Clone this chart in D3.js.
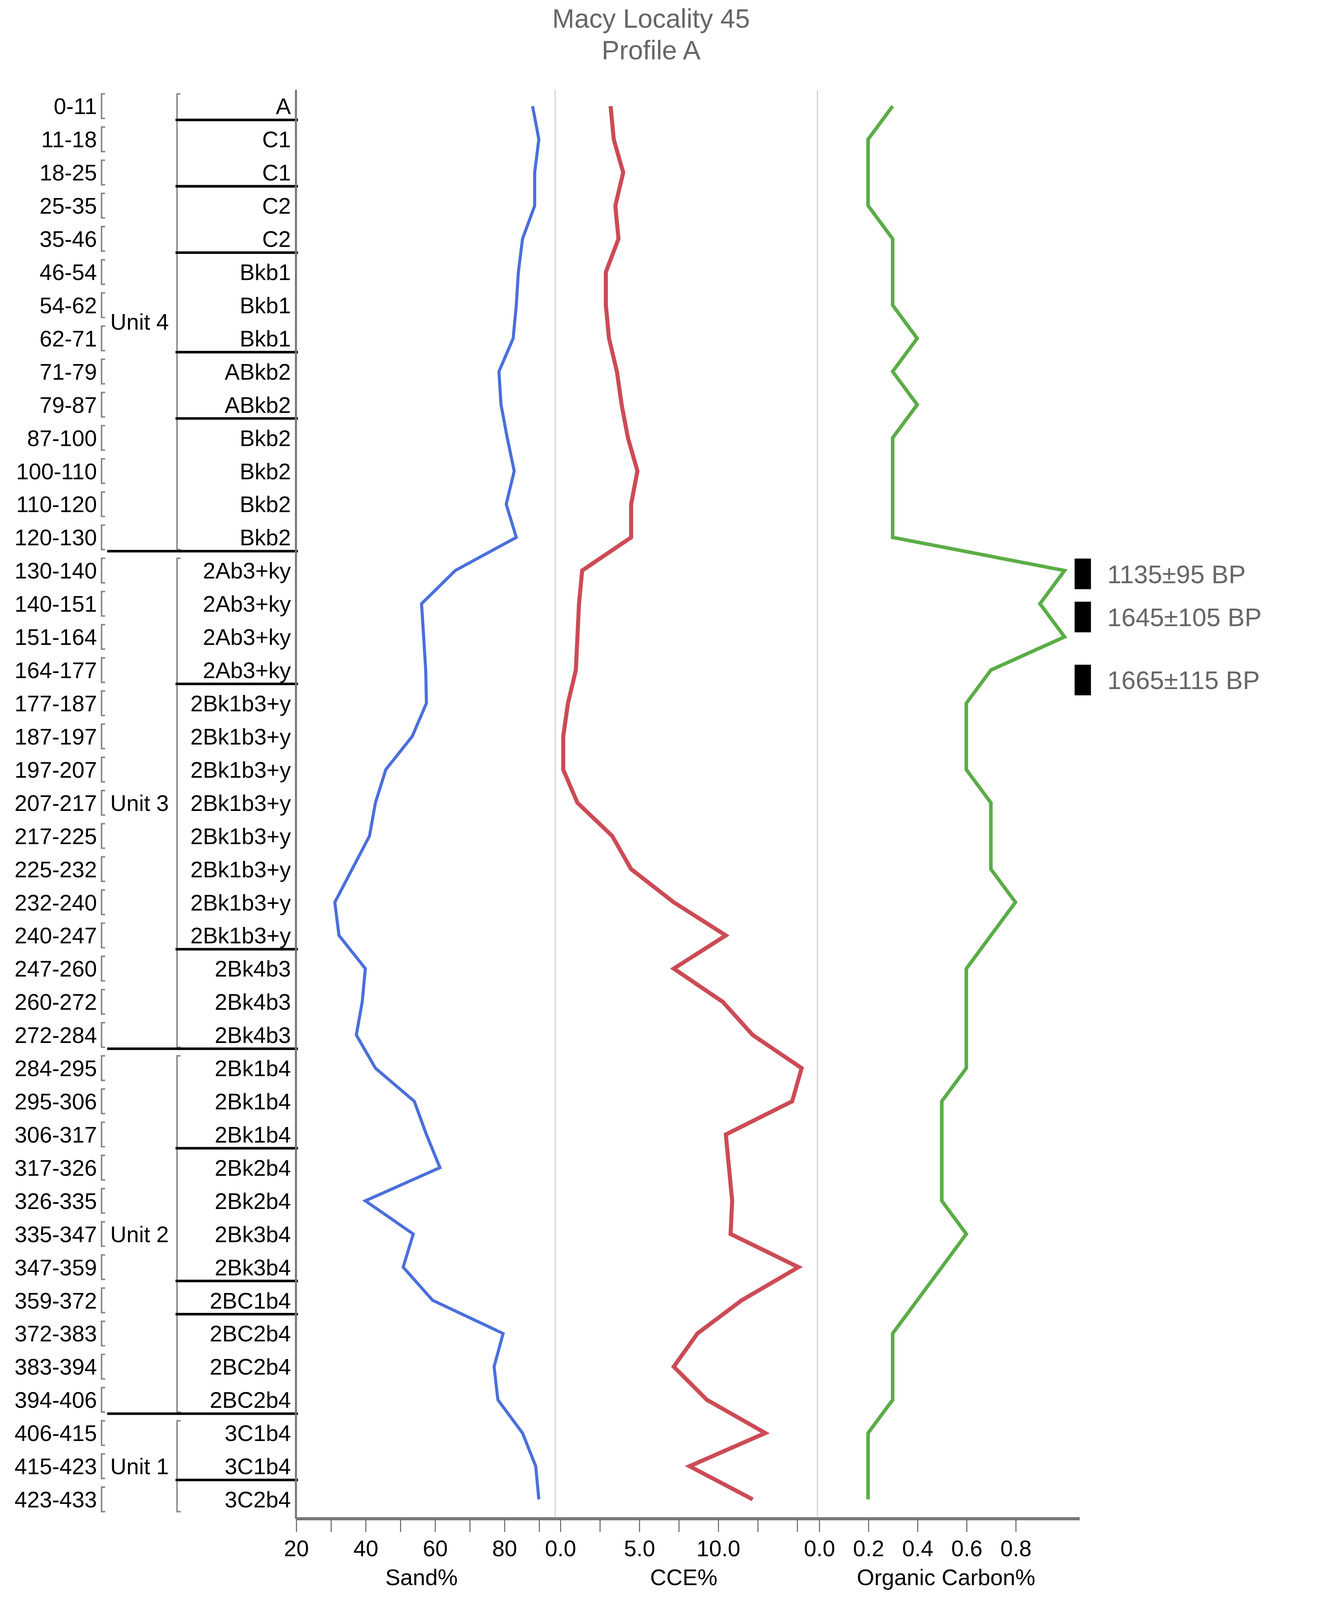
<!DOCTYPE html>
<html><head><meta charset="utf-8">
<script src="https://cdn.jsdelivr.net/npm/d3@7"></script>
<style>body{margin:0;background:#fff}text{font-family:"Liberation Sans",Arial,sans-serif}</style>
</head><body><svg id="c" width="3436" height="4297"></svg>
<script>
const depths=["0-11","11-18","18-25","25-35","35-46","46-54","54-62","62-71","71-79","79-87","87-100","100-110","110-120","120-130","130-140","140-151","151-164","164-177","177-187","187-197","197-207","207-217","217-225","225-232","232-240","240-247","247-260","260-272","272-284","284-295","295-306","306-317","317-326","326-335","335-347","347-359","359-372","372-383","383-394","394-406","406-415","415-423","423-433"];
const horizons=["A","C1","C1","C2","C2","Bkb1","Bkb1","Bkb1","ABkb2","ABkb2","Bkb2","Bkb2","Bkb2","Bkb2","2Ab3+ky","2Ab3+ky","2Ab3+ky","2Ab3+ky","2Bk1b3+y","2Bk1b3+y","2Bk1b3+y","2Bk1b3+y","2Bk1b3+y","2Bk1b3+y","2Bk1b3+y","2Bk1b3+y","2Bk4b3","2Bk4b3","2Bk4b3","2Bk1b4","2Bk1b4","2Bk1b4","2Bk2b4","2Bk2b4","2Bk3b4","2Bk3b4","2BC1b4","2BC2b4","2BC2b4","2BC2b4","3C1b4","3C1b4","3C2b4"];
const horizonBreaks=[0,2,4,7,9,17,25,31,35,36,41];
const units=[{name:"Unit 4",first:0,last:13},{name:"Unit 3",first:14,last:28},{name:"Unit 2",first:29,last:39},{name:"Unit 1",first:40,last:42}];
const sand=[88.2,90,88.8,88.8,85.3,84.1,83.5,82.6,78.5,79.1,80.9,82.9,80.6,83.5,65.9,56.2,56.8,57.4,57.6,53.5,45.9,42.9,41.2,36.2,31.2,32.4,40,39.1,37.4,42.9,54.1,57.6,61.5,40,53.8,50.9,59.4,79.7,77.1,78.2,85.3,89.1,90];
const cce=[3.2,3.4,4.0,3.5,3.7,2.9,2.9,3.1,3.6,3.9,4.3,4.9,4.5,4.5,1.4,1.2,1.1,1.0,0.5,0.2,0.2,1.1,3.3,4.5,7.2,10.5,7.2,10.3,12.2,15.3,14.7,10.5,10.7,10.9,10.8,15.1,11.5,8.7,7.2,9.3,13.0,8.2,12.2];
const oc=[0.3,0.2,0.2,0.2,0.3,0.3,0.3,0.4,0.3,0.4,0.3,0.3,0.3,0.3,1.0,0.9,1.0,0.7,0.6,0.6,0.6,0.7,0.7,0.7,0.8,0.7,0.6,0.6,0.6,0.6,0.5,0.5,0.5,0.5,0.6,0.5,0.4,0.3,0.3,0.3,0.2,0.2,0.2];
const dates=[{label:"1135±95 BP",row:14.1},{label:"1645±105 BP",row:15.4},{label:"1665±115 BP",row:17.3}];
const sandTicks=[20,30,40,50,60,70,80,90],sandLabels=[20,40,60,80];
const cceTicks=[0,2.5,5,7.5,10,12.5,15],cceLabels=[0,5,10];
const ocTicks=[0,0.2,0.4,0.6,0.8],ocLabels=[0,0.2,0.4,0.6,0.8];

const K=3436/1315;
const svg=d3.select("#c");
const g=svg.append("g").attr("transform",`scale(${K})`);
const y=d3.scaleLinear().domain([0,42]).range([104,1469]);
const FS=22;
const xs=d3.scaleLinear().domain([20,90]).range([290,528]);
const xc=d3.scaleLinear().domain([0,10]).range([548.8,703.5]);
const xo=d3.scaleLinear().domain([0,0.8]).range([802.5,995]);
const axisY=1488;

g.append("text").attr("x",638).attr("y",27).attr("text-anchor","middle").attr("font-size",26).attr("fill","#666").text("Macy Locality 45");
g.append("text").attr("x",638).attr("y",58).attr("text-anchor","middle").attr("font-size",26).attr("fill","#666").text("Profile A");

[544,801].forEach(x=>g.append("line").attr("x1",x).attr("x2",x).attr("y1",88).attr("y2",axisY).attr("stroke","#d4d4d4").attr("stroke-width",1.2));

depths.forEach((d,i)=>{
  g.append("text").attr("x",95).attr("y",y(i)).attr("dy","0.36em").attr("text-anchor","end").attr("font-size",FS).text(d);
  g.append("path").attr("d",`M103,${y(i)-12}H99.5V${y(i)+12}H103`).attr("fill","none").attr("stroke","#888").attr("stroke-width",1.5);
  g.append("text").attr("x",285).attr("y",y(i)).attr("dy","0.36em").attr("text-anchor","end").attr("font-size",FS).text(horizons[i]);
});
units.forEach(u=>{
  const y0=y(u.first)-12,y1=y(u.last)+12;
  g.append("path").attr("d",`M177,${y0}H173.5V${y1}H177`).attr("fill","none").attr("stroke","#888").attr("stroke-width",1.5);
  g.append("text").attr("x",108).attr("y",(y(u.first)+y(u.last))/2).attr("dy","0.36em").attr("font-size",FS).text(u.name);
});
horizonBreaks.forEach(i=>g.append("line").attr("x1",172).attr("x2",292).attr("y1",y(i)+13.5).attr("y2",y(i)+13.5).attr("stroke","#000").attr("stroke-width",2.5));
units.slice(0,3).forEach(u=>g.append("line").attr("x1",105).attr("x2",292).attr("y1",y(u.last)+13.5).attr("y2",y(u.last)+13.5).attr("stroke","#000").attr("stroke-width",2.5));

g.append("line").attr("x1",290).attr("x2",290).attr("y1",88).attr("y2",axisY).attr("stroke","#777").attr("stroke-width",2);

const mk=(arr,x,col,w)=>g.append("path").datum(arr).attr("fill","none").attr("stroke",col).attr("stroke-width",w).attr("stroke-linejoin","miter")
  .attr("d",d3.line().x(v=>x(v)).y((v,i)=>y(i)));
mk(sand,xs,"#4a6fdc",3);
mk(cce,xc,"#cc4b55",4);
mk(oc,xo,"#5aad46",3.5);

dates.forEach(d=>{
  g.append("rect").attr("x",1053).attr("y",y(d.row)-15).attr("width",16).attr("height",30).attr("fill","#000");
  g.append("text").attr("x",1085).attr("y",y(d.row)).attr("dy","0.36em").attr("font-size",25).attr("fill","#666").text(d.label);
});

function ax(x,ticks,labels,fmt){
  const a=d3.axisBottom(x).tickValues(ticks).tickSize(13).tickPadding(8).tickFormat(v=>labels.includes(v)?fmt(v):"");
  const gg=g.append("g").attr("transform",`translate(0,${axisY})`).call(a);
  gg.select(".domain").remove();
  gg.selectAll(".tick line").attr("stroke","#666").attr("stroke-width",1);
  gg.selectAll(".tick text").attr("font-size",FS).attr("fill","#000").attr("font-family","Liberation Sans, Arial, sans-serif");
}
ax(xs,sandTicks,sandLabels,d3.format("d"));
ax(xc,cceTicks,cceLabels,d3.format(".1f"));
ax(xo,ocTicks,ocLabels,d3.format(".1f"));
g.append("line").attr("x1",290).attr("x2",1058).attr("y1",axisY).attr("y2",axisY).attr("stroke","#777").attr("stroke-width",3);
[["Sand%",413],["CCE%",670],["Organic Carbon%",927]].forEach(([t,x])=>g.append("text").attr("x",x).attr("y",1553).attr("text-anchor","middle").attr("font-size",FS).text(t));
</script></body></html>
